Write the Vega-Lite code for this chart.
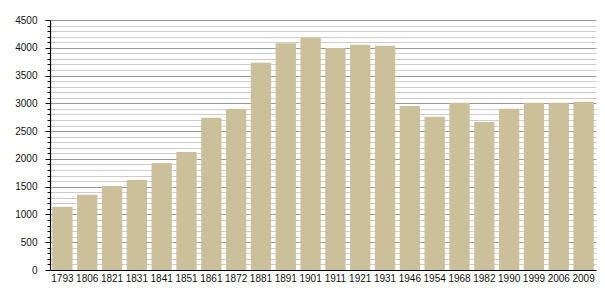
{
  "$schema": "https://vega.github.io/schema/vega-lite/v6.json",
  "width": 546,
  "height": 250,
  "autosize": {"type": "none"},
  "padding": {"left": 50, "top": 20, "right": 9, "bottom": 30},
  "background": "white",
  "config": {
    "view": {"stroke": null},
    "font": "Liberation Sans"
  },
  "data": {
    "values": [
      {"year": "1793", "pop": 1140},
      {"year": "1806", "pop": 1355},
      {"year": "1821", "pop": 1512},
      {"year": "1831", "pop": 1620},
      {"year": "1841", "pop": 1926},
      {"year": "1851", "pop": 2124},
      {"year": "1861", "pop": 2740},
      {"year": "1872", "pop": 2900},
      {"year": "1881", "pop": 3732},
      {"year": "1891", "pop": 4080},
      {"year": "1901", "pop": 4182},
      {"year": "1911", "pop": 3996},
      {"year": "1921", "pop": 4056},
      {"year": "1931", "pop": 4038},
      {"year": "1946", "pop": 2952},
      {"year": "1954", "pop": 2760},
      {"year": "1968", "pop": 3012},
      {"year": "1982", "pop": 2664},
      {"year": "1990", "pop": 2904},
      {"year": "1999", "pop": 3012},
      {"year": "2006", "pop": 3012},
      {"year": "2009", "pop": 3030}
    ]
  },
  "mark": {"type": "bar", "color": "#cbc09a"},
  "encoding": {
    "x": {
      "field": "year",
      "type": "ordinal",
      "sort": null,
      "scale": {"paddingInner": 0.18, "paddingOuter": 0.09},
      "axis": {
        "title": null,
        "labelAngle": 0,
        "ticks": false,
        "labelPadding": 3,
        "labelFontSize": 10,
        "labelColor": "#111",
        "domainColor": "#000",
        "domainWidth": 1.2,
        "grid": false
      }
    },
    "y": {
      "field": "pop",
      "type": "quantitative",
      "scale": {"domain": [0, 4500], "nice": false},
      "axis": {
        "title": null,
        "values": [0,100,200,300,400,500,600,700,800,900,1000,1100,1200,1300,1400,1500,1600,1700,1800,1900,2000,2100,2200,2300,2400,2500,2600,2700,2800,2900,3000,3100,3200,3300,3400,3500,3600,3700,3800,3900,4000,4100,4200,4300,4400,4500],
        "labelExpr": "datum.value % 500 === 0 ? datum.value : ''",
        "labelFontSize": 10,
        "labelColor": "#111",
        "labelPadding": 8,
        "domainColor": "#000",
        "domainWidth": 1.2,
        "tickColor": "#000",
        "tickSize": {"condition": {"test": "datum.value % 500 === 0", "value": 5}, "value": 3},
        "grid": true,
        "gridColor": {"condition": {"test": "datum.value % 500 === 0", "value": "#999999"}, "value": "#cccccc"},
        "gridWidth": 1
      }
    }
  }
}
